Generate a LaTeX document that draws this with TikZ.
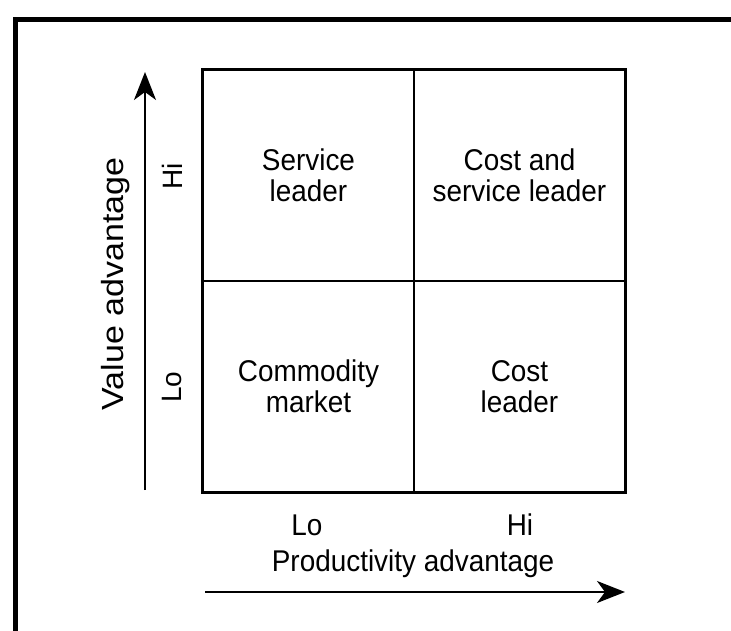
\documentclass[tikz,border=0pt]{standalone}
\usepackage{fontspec}
\setmainfont{Liberation Sans}
\newfontfamily\narrowsans{Liberation Sans}[FakeStretch=0.93]
\usetikzlibrary{arrows.meta}
\tikzstyle{cell} = [rectangle, minimum width=211pt, minimum height=211pt, inner sep=0pt, align=center, draw=black, line width=1.5pt, font=\narrowsans\fontsize{30}{31}\selectfont]
\tikzstyle{axislabel} = [inner sep=0pt, font=\narrowsans\fontsize{30}{31}\selectfont]
\tikzstyle{sidelabel} = [inner sep=0pt, rotate=90, font=\fontsize{28}{31}\selectfont]
\tikzstyle{arrow} = [line width=1.8pt, -{Stealth[length=28pt, width=22pt, inset=8pt]}]

\begin{document}
\begin{tikzpicture}[x=1pt, y=-1pt, node distance=211pt]
    \useasboundingbox (0,0) rectangle (731,631);
    %frame
    \draw [line width=5pt] (15,631) |- (731,20);

    %cells
    \node (sl) [cell] at (308.5,175.5) {Service\\leader};
    \node (csl) [cell, right of=sl] {Cost and\\service leader};
    \node (cm) [cell, below of=sl] {Commodity\\market};
    \node (cl) [cell, right of=cm] {Cost\\leader};
    \draw [line width=3pt] (sl.north west) rectangle (cl.south east);

    %labels
    \node (yhi) [sidelabel] at (172,176) {Hi};
    \node (ylo) [sidelabel] at (172,387) {Lo};
    \node (yname) [sidelabel, font=\fontsize{34}{31}\selectfont] at (116,284) {\scalebox{1}[0.9]{Value advantage}};
    \node (xlo) [axislabel] at (307,525) {Lo};
    \node (xhi) [axislabel] at (520,525) {Hi};
    \node (xname) [axislabel] at (413,564) {Productivity advantage};

    %arrows
    \coordinate (vbot) at (145,490);
    \coordinate (vtop) at (145,72);
    \coordinate (hleft) at (205,592);
    \coordinate (hright) at (625,592);
    \draw [arrow] (vbot) -- (vtop);
    \draw [arrow] (hleft) -- (hright);

\end{tikzpicture}
\end{document}
